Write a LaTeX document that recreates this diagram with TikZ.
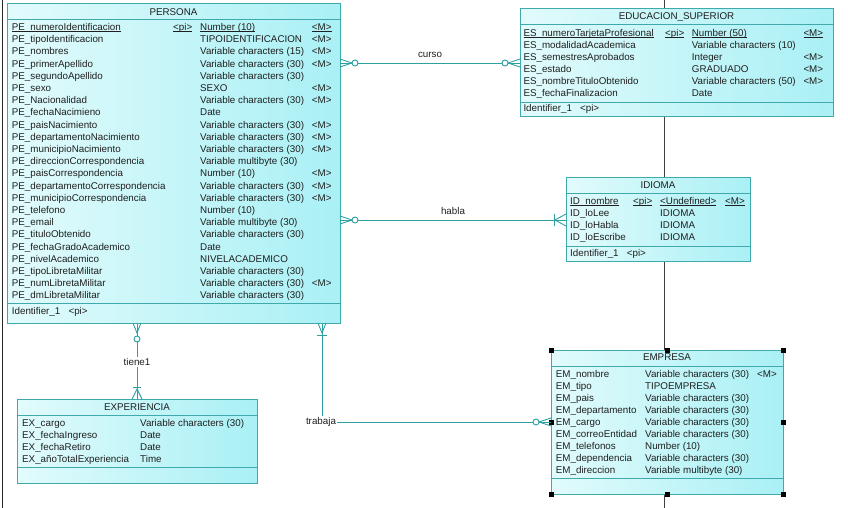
\documentclass[tikz,border=0pt]{standalone}
\usepackage{fontspec}
\setmainfont{Liberation Sans}
\definecolor{bord}{HTML}{3FA9AC}
\definecolor{conn}{HTML}{2E9FA2}
\definecolor{fillA}{HTML}{E2FBFC}
\definecolor{fillB}{HTML}{A9F0F5}
\newcommand\pkul[1]{\leavevmode\rlap{\rule[-1.3pt]{\widthof{#1}}{0.6pt}}#1}
\usepackage{calc}
\begin{document}
\begin{tikzpicture}[x=1pt,y=-1pt,
  entity/.style={draw=bord, line width=1pt, left color=fillA, right color=fillB, inner sep=0pt, outer sep=0pt},
  sepline/.style={draw=bord, line width=0.9pt},
  txt/.style={anchor=base west, inner sep=0pt, font=\fontsize{9.8}{12}\selectfont, text=black!88},
  ttl/.style={anchor=base, inner sep=0pt, font=\fontsize{9.8}{12}\selectfont, text=black!88},
  lbl/.style={inner sep=1pt, font=\fontsize{9.8}{12}\selectfont, text=black!88, fill=white},
  rel/.style={draw=conn, line width=0.9pt},
  ring/.style={draw=conn, line width=0.9pt, fill=white}
]
\useasboundingbox (0,0) rectangle (848,508);
% background lines
\draw[black!85, line width=1pt] (2,0) -- (2,508);
\draw[black!75, line width=1pt] (664,0) -- (664,508);

% ---------- PERSONA ----------
\node[entity, minimum width=333pt, minimum height=319pt] (persona) at (173.5,163.5) {};
\draw[sepline] (persona.west |- 0,19) -- (persona.east |- 0,19);
\draw[sepline] (persona.west |- 0,303) -- (persona.east |- 0,303);
\node[ttl] (pe-title) at (173.5,15.5) {PERSONA};
\node[txt] (pe-0-n) at (11.7,30.5) {\pkul{PE\_numeroIdentificacion}};
\node[txt] (pe-0-p) at (173,30.5) {\pkul{<pi>}};
\node[txt] (pe-0-t) at (200,30.5) {\pkul{Number (10)}};
\node[txt] (pe-0-m) at (311.7,30.5) {\pkul{<M>}};
\foreach \nm/\ty/\mm [count=\i] in {
  PE\_tipoIdentificacion/TIPOIDENTIFICACION/<M>,
  PE\_nombres/Variable characters (15)/<M>,
  PE\_primerApellido/Variable characters (30)/<M>,
  PE\_segundoApellido/Variable characters (30)/{},
  PE\_sexo/SEXO/<M>,
  PE\_Nacionalidad/Variable characters (30)/<M>,
  PE\_fechaNacimieno/Date/{},
  PE\_paisNacimiento/Variable characters (30)/<M>,
  PE\_departamentoNacimiento/Variable characters (30)/<M>,
  PE\_municipioNacimiento/Variable characters (30)/<M>,
  PE\_direccionCorrespondencia/Variable multibyte (30)/{},
  PE\_paisCorrespondencia/Number (10)/<M>,
  PE\_departamentoCorrespondencia/Variable characters (30)/<M>,
  PE\_municipioCorrespondencia/Variable characters (30)/<M>,
  PE\_telefono/Number (10)/{},
  PE\_email/Variable multibyte (30)/{},
  PE\_tituloObtenido/Variable characters (30)/{},
  PE\_fechaGradoAcademico/Date/{},
  PE\_nivelAcademico/NIVELACADEMICO/{},
  PE\_tipoLibretaMilitar/Variable characters (30)/{},
  PE\_numLibretaMilitar/Variable characters (30)/<M>,
  PE\_dmLibretaMilitar/Variable characters (30)/{}}{
  \node[txt] (pe-\i-n) at (11.7,{30.5+12.2*\i}) {\nm};
  \node[txt] (pe-\i-t) at (200,{30.5+12.2*\i}) {\ty};
  \node[txt] (pe-\i-m) at (311.7,{30.5+12.2*\i}) {\mm};
}
\node[txt] (pe-id) at (11.7,314.5) {Identifier\_1\ \ \ <pi>};

% ---------- EDUCACION_SUPERIOR ----------
\node[entity, minimum width=313pt, minimum height=108.5pt] (edu) at (676.5,62.75) {};
\draw[sepline] (edu.west |- 0,24) -- (edu.east |- 0,24);
\draw[sepline] (edu.west |- 0,102) -- (edu.east |- 0,102);
\node[ttl] (es-title) at (676.5,19.5) {EDUCACION\_SUPERIOR};
\node[txt] (es-0-n) at (523.3,36.5) {\pkul{ES\_numeroTarjetaProfesional}};
\node[txt] (es-0-p) at (665,36.5) {\pkul{<pi>}};
\node[txt] (es-0-t) at (691.7,36.5) {\pkul{Number (50)}};
\node[txt] (es-0-m) at (803.3,36.5) {\pkul{<M>}};
\foreach \nm/\ty/\mm [count=\i] in {
  ES\_modalidadAcademica/Variable characters (10)/{},
  ES\_semestresAprobados/Integer/<M>,
  ES\_estado/GRADUADO/<M>,
  ES\_nombreTituloObtenido/Variable characters (50)/<M>,
  ES\_fechaFinalizacion/Date/{}}{
  \node[txt] (es-\i-n) at (523.3,{36.5+12*\i}) {\nm};
  \node[txt] (es-\i-t) at (691.7,{36.5+12*\i}) {\ty};
  \node[txt] (es-\i-m) at (803.3,{36.5+12*\i}) {\mm};
}
\node[txt] (es-id) at (523.3,112) {Identifier\_1\ \ \ <pi>};

% ---------- IDIOMA ----------
\node[entity, minimum width=184pt, minimum height=84pt] (idioma) at (658,219) {};
\draw[sepline] (idioma.west |- 0,193) -- (idioma.east |- 0,193);
\draw[sepline] (idioma.west |- 0,246) -- (idioma.east |- 0,246);
\node[ttl] (id-title) at (658,188.5) {IDIOMA};
\node[txt] (id-0-n) at (570,204.5) {\pkul{ID\_nombre}};
\node[txt] (id-0-p) at (633,204.5) {\pkul{<pi>}};
\node[txt] (id-0-t) at (660,204.5) {\pkul{<Undefined>}};
\node[txt] (id-0-m) at (725,204.5) {\pkul{<M>}};
\foreach \nm [count=\i] in {ID\_loLee, ID\_loHabla, ID\_loEscribe}{
  \node[txt] (id-\i-n) at (570,{204.5+12*\i}) {\nm};
  \node[txt] (id-\i-t) at (660,{204.5+12*\i}) {IDIOMA};
}
\node[txt] (id-id) at (570,256.5) {Identifier\_1\ \ \ <pi>};

% ---------- EMPRESA ----------
\node[entity, minimum width=232pt, minimum height=144pt] (empresa) at (667,422) {};
\draw[sepline] (empresa.west |- 0,366) -- (empresa.east |- 0,366);
\draw[sepline] (empresa.west |- 0,478) -- (empresa.east |- 0,478);
\node[ttl] (em-title) at (667,360.5) {EMPRESA};
\foreach \nm/\ty/\mm [count=\i from 0] in {
  EM\_nombre/Variable characters (30)/<M>,
  EM\_tipo/TIPOEMPRESA/{},
  EM\_pais/Variable characters (30)/{},
  EM\_departamento/Variable characters (30)/{},
  EM\_cargo/Variable characters (30)/{},
  EM\_correoEntidad/Variable characters (30)/{},
  EM\_telefonos/Number (10)/{},
  EM\_dependencia/Variable characters (30)/{},
  EM\_direccion/Variable multibyte (30)/{}}{
  \node[txt] (em-\i-n) at (555.7,{377.5+12*\i}) {\nm};
  \node[txt] (em-\i-t) at (645,{377.5+12*\i}) {\ty};
  \node[txt] (em-\i-m) at (757,{377.5+12*\i}) {\mm};
}
\foreach \a [count=\k] in {north west,north,north east,west,east,south west,south,south east}{
  \fill[black] (empresa.\a) ++(-2.5,-2.5) rectangle ++(5,5);
}

% ---------- EXPERIENCIA ----------
\node[entity, minimum width=240pt, minimum height=84pt] (exper) at (137,441) {};
\draw[sepline] (exper.west |- 0,415) -- (exper.east |- 0,415);
\draw[sepline] (exper.west |- 0,467) -- (exper.east |- 0,467);
\node[ttl] (ex-title) at (137,410.5) {EXPERIENCIA};
\foreach \nm/\ty [count=\i from 0] in {
  EX\_cargo/Variable characters (30),
  EX\_fechaIngreso/Date,
  EX\_fechaRetiro/Date,
  EX\_añoTotalExperiencia/Time}{
  \node[txt] (ex-\i-n) at (22,{426.5+12*\i}) {\nm};
  \node[txt] (ex-\i-t) at (140,{426.5+12*\i}) {\ty};
}

% ---------- relationships ----------
% curso
\draw[rel] (persona.east |- 0,63) -- (edu.west |- 0,63);
\node[lbl, fill=none] (curso) at (430,55) {curso};
\draw[rel] (persona.east |- 0,59) -- (352,63) -- (persona.east |- 0,67);
\draw[ring] (355,63) circle (3);
\draw[rel] (edu.west |- 0,59) -- (508,63) -- (edu.west |- 0,67);
\draw[ring] (505,63) circle (3);

% habla
\draw[rel] (persona.east |- 0,220) -- (idioma.west |- 0,220);
\node[lbl, fill=none] (habla) at (453,211) {habla};
\draw[rel] (persona.east |- 0,216) -- (352,220) -- (persona.east |- 0,224);
\draw[ring] (355,220) circle (3);
\draw[rel] (idioma.west |- 0,214) -- (555,220) -- (idioma.west |- 0,226);
\draw[rel] (554,214) -- (554,226);

% tiene1
\node[lbl] (tiene) at (137,362) {tiene1};
\draw[rel] (persona.south -| tiene) -- (tiene.north);
\draw[rel] (tiene.south) -- (exper.north -| tiene);
\draw[rel] (133,323) -- (137,333) -- (141,323);
\draw[ring] (137,339) circle (3);
\draw[rel] (132,399) -- (137,389) -- (142,399);
\draw[rel] (133,387) -- (141,387);

% trabaja
\node[lbl] (trabaja) at (321,422) {trabaja};
\draw[rel] (persona.south -| 322,0) -- (trabaja.north -| 322,0);
\draw[rel] (trabaja.east) -- (empresa.west |- trabaja.east);
\draw[rel] (318,323) -- (322,333) -- (326,323);
\draw[rel] (317,335) -- (327,335);
\draw[rel] (empresa.west |- 0,418) -- (539,422) -- (empresa.west |- 0,426);
\draw[ring] (536,422) circle (3);
\end{tikzpicture}
\end{document}
